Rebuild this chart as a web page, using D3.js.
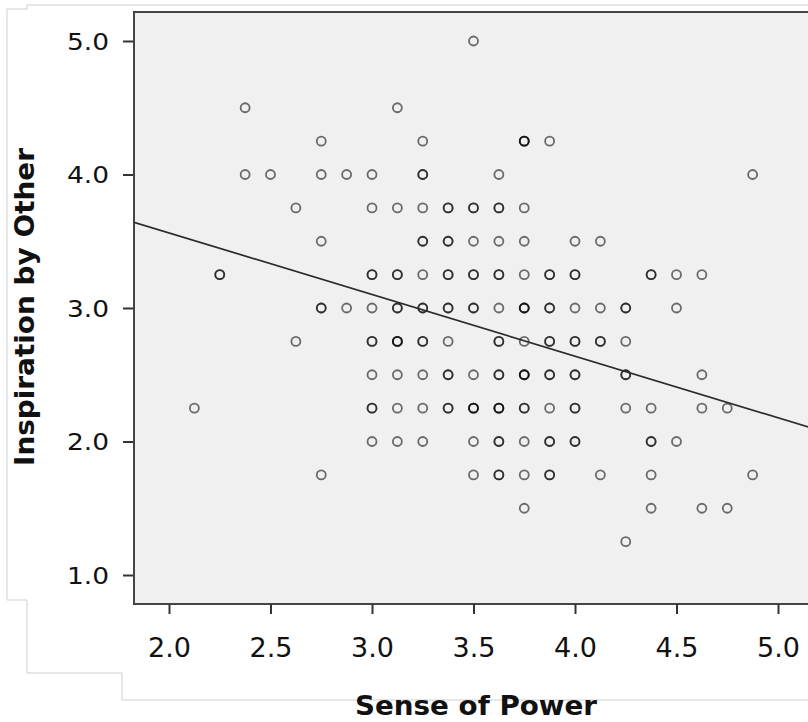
<!DOCTYPE html>
<html>
<head>
<meta charset="utf-8">
<script src="https://cdn.jsdelivr.net/npm/d3@7"></script>
<style>
  body {margin: 0; background: #fff; overflow: hidden;}
</style>
</head>
<body>
<div id="canvas"></div>

<script type="text/javascript">

// Inspiration by Other (y) levels, and the Sense of Power (x) values seen on each level
var yLevels = [5.0, 4.5, 4.25, 4.0, 3.75, 3.5, 3.25, 3.0, 2.75, 2.5, 2.25, 2.0, 1.75, 1.5, 1.25];

var xAtLevel = [
    [3.5],
    [2.375, 3.125],
    [2.75, 3.25, 3.75, 3.875],
    [2.375, 2.5, 2.75, 2.875, 3.0, 3.25, 3.625, 4.875],
    [2.625, 3.0, 3.125, 3.25, 3.375, 3.5, 3.625, 3.75],
    [2.75, 3.25, 3.375, 3.5, 3.625, 3.75, 4.0, 4.125],
    [2.25, 3.0, 3.125, 3.25, 3.375, 3.5, 3.625, 3.75, 3.875, 4.0, 4.375, 4.5, 4.625],
    [2.75, 2.875, 3.0, 3.125, 3.25, 3.375, 3.5, 3.625, 3.75, 3.875, 4.0, 4.125, 4.25, 4.5],
    [2.625, 3.0, 3.125, 3.25, 3.375, 3.625, 3.75, 3.875, 4.0, 4.125, 4.25],
    [3.0, 3.125, 3.25, 3.375, 3.5, 3.625, 3.75, 3.875, 4.0, 4.25, 4.625],
    [2.125, 3.0, 3.125, 3.25, 3.375, 3.5, 3.625, 3.75, 3.875, 4.0, 4.25, 4.375, 4.625, 4.75],
    [3.0, 3.125, 3.25, 3.5, 3.625, 3.75, 3.875, 4.0, 4.375, 4.5],
    [2.75, 3.5, 3.625, 3.75, 3.875, 4.125, 4.375, 4.875],
    [3.75, 4.375, 4.625, 4.75],
    [4.25]
];

// extra cases sitting on the same spot (these print darker)
var repeatsAtLevel = [
    [],
    [],
    [3.75, 3.75],
    [3.25],
    [3.375, 3.5, 3.625],
    [3.25, 3.375],
    [2.25, 3.0, 3.125, 3.375, 3.5, 3.625, 3.875, 4.0, 4.375],
    [2.75, 3.125, 3.25, 3.375, 3.5, 3.75, 3.75, 3.875, 4.25],
    [3.0, 3.125, 3.125, 3.25, 3.625, 3.875, 4.0, 4.125],
    [3.375, 3.625, 3.75, 3.75, 3.875, 4.0, 4.25],
    [3.0, 3.375, 3.5, 3.5, 3.625, 3.625, 3.75, 4.0],
    [3.625, 3.875, 4.0, 4.375],
    [3.625, 3.875],
    [],
    []
];

var xTicks = [2.0, 2.5, 3.0, 3.5, 4.0, 4.5, 5.0];
var yTicks = [1.0, 2.0, 3.0, 4.0, 5.0];

// linear fit line
var fitIntercept = 4.486;
var fitSlope = -0.4617;

var xTitle = "Sense of Power";
var yTitle = "Inspiration by Other";

var width = 808, height = 722;

var points = [];
yLevels.forEach(function (yv, i) {
    xAtLevel[i].forEach(function (xv) { points.push({x: xv, y: yv}); });
    repeatsAtLevel[i].forEach(function (xv) { points.push({x: xv, y: yv}); });
});

var svg = d3.select("#canvas").append("svg")
        .attr("width", width)
        .attr("height", height);

var x = d3.scaleLinear().domain([2, 5]).range([169, 778]);
var y = d3.scaleLinear().domain([1, 5]).range([575, 41]);

var plotLeft = 134, plotTop = 12, plotBottom = 604, plotRight = 830;

// faint outline of the pasted figure
svg.append("path")
    .attr("d", "M27,5 H808 M27,5 V9 H7 V600 H27 V673 H122 V700 H808")
    .style("fill", "none")
    .style("stroke", "#cfcfcf")
    .style("stroke-width", 1);

svg.append("clipPath").attr("id", "plotclip")
    .append("rect")
    .attr("x", plotLeft).attr("y", plotTop)
    .attr("width", plotRight - plotLeft).attr("height", plotBottom - plotTop);

svg.append("rect")
    .attr("x", plotLeft).attr("y", plotTop)
    .attr("width", plotRight - plotLeft).attr("height", plotBottom - plotTop)
    .style("fill", "#f0f0f0")
    .style("stroke", "#444")
    .style("stroke-width", 2);

var plot = svg.append("g").attr("clip-path", "url(#plotclip)");

plot.selectAll("circle")
    .data(points)
    .enter().append("circle")
    .attr("cx", function (d) { return x(d.x); })
    .attr("cy", function (d) { return y(d.y); })
    .attr("r", 4.5)
    .style("fill", "none")
    .style("stroke", "#000")
    .style("stroke-opacity", 0.56)
    .style("stroke-width", 1.8);

var fx0 = x.invert(plotLeft), fx1 = x.invert(plotRight);
plot.append("line")
    .attr("x1", x(fx0)).attr("y1", y(fitIntercept + fitSlope * fx0))
    .attr("x2", x(fx1)).attr("y2", y(fitIntercept + fitSlope * fx1))
    .style("stroke", "#2b2b2b")
    .style("stroke-width", 1.7);

// axes
var xAxis = svg.append("g")
    .attr("transform", "translate(0," + plotBottom + ")")
    .call(d3.axisBottom(x).tickValues(xTicks).tickFormat(d3.format(".1f")).tickSize(10).tickSizeOuter(0));
xAxis.select(".domain").remove();
xAxis.selectAll("line").style("stroke", "#333").style("stroke-width", 2);
xAxis.selectAll("text")
    .attr("y", 53).attr("dy", 0)
    .style("font-family", "DejaVu Sans")
    .style("font-size", "27px")
    .style("fill", "#111");

var yAxis = svg.append("g")
    .attr("transform", "translate(" + (plotLeft - 1) + ",0)")
    .call(d3.axisLeft(y).tickValues(yTicks).tickFormat(d3.format(".1f")).tickSize(10).tickSizeOuter(0));
yAxis.select(".domain").remove();
yAxis.selectAll("line").style("stroke", "#333").style("stroke-width", 2);
yAxis.selectAll("text")
    .attr("x", -24).attr("dy", "0.36em")
    .attr("textLength", 42)
    .attr("lengthAdjust", "spacingAndGlyphs")
    .style("font-family", "DejaVu Sans")
    .style("font-size", "23px")
    .style("fill", "#111");

svg.append("text")
    .attr("x", 476).attr("y", 715)
    .attr("text-anchor", "middle")
    .attr("textLength", 242)
    .attr("lengthAdjust", "spacingAndGlyphs")
    .style("font-family", "DejaVu Sans")
    .style("font-weight", "bold")
    .style("font-size", "27px")
    .style("fill", "#111")
    .text(xTitle);

svg.append("text")
    .attr("transform", "translate(34,307) rotate(-90)")
    .attr("text-anchor", "middle")
    .attr("textLength", 318)
    .attr("lengthAdjust", "spacingAndGlyphs")
    .style("font-family", "DejaVu Sans")
    .style("font-weight", "bold")
    .style("font-size", "27px")
    .style("fill", "#111")
    .text(yTitle);

</script>
</body>
</html>
